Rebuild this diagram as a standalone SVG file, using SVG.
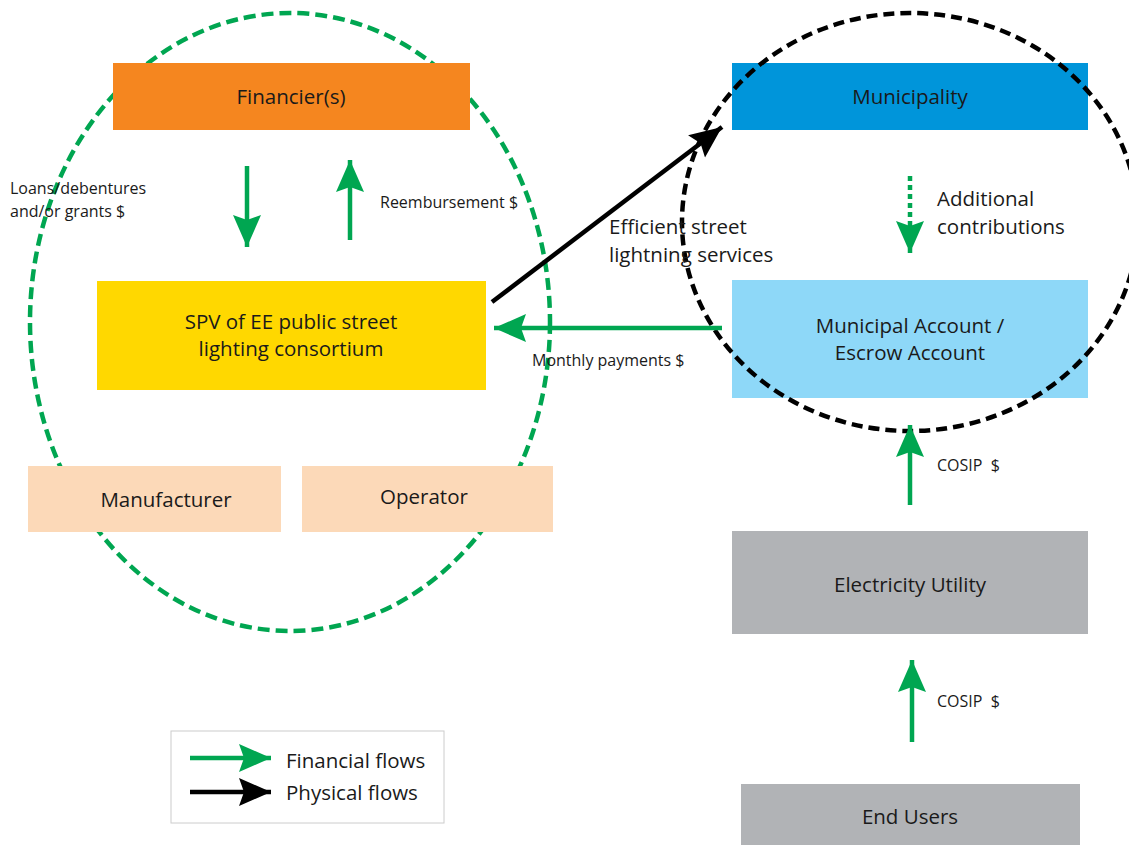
<svg xmlns="http://www.w3.org/2000/svg" width="1129" height="845" viewBox="0 0 1129 845">
<defs>
<style>
text{font-family:"Open Sans","Liberation Sans",Arial,sans-serif;fill:#1a1a1a}
.big{font-size:20.5px}
.sm{font-size:16px}
.mid{text-anchor:middle}
.g{stroke:#00A651;stroke-width:4.5;fill:none}
.k{stroke:#000;stroke-width:4.5;fill:none}
</style>
<marker id="ag" markerUnits="userSpaceOnUse" markerWidth="34" markerHeight="32" viewBox="-32 -16 34 32" refX="0" refY="0" orient="auto">
<path d="M0,0 L-32,-14 L-27,0 L-32,14 Z" fill="#00A651"/>
</marker>
<marker id="ak" markerUnits="userSpaceOnUse" markerWidth="34" markerHeight="32" viewBox="-32 -16 34 32" refX="0" refY="0" orient="auto">
<path d="M0,0 L-32,-14 L-27,0 L-32,14 Z" fill="#000"/>
</marker>
</defs>
<rect width="1129" height="845" fill="#fff"/>
<ellipse id="green-boundary" cx="290" cy="322" rx="260" ry="309" fill="none" stroke="#00A651" stroke-width="4.5" stroke-dasharray="12 6"/>
<g id="financiers"><rect x="113" y="63" width="357" height="67" fill="#F5861F"/><text class="big mid" x="291" y="104">Financier(s)</text></g>
<g id="municipality"><rect x="732" y="63" width="356" height="67" fill="#0095DA"/><text class="big mid" x="910" y="104">Municipality</text></g>
<g id="spv"><rect x="97" y="281" width="389" height="109" fill="#FFD800"/><text class="big mid" x="291" y="329">SPV of EE public street</text><text class="big mid" x="291" y="356">lighting consortium</text></g>
<g id="municipal-account"><rect x="732" y="280" width="356" height="118" fill="#8ED8F8"/><text class="big mid" x="910" y="333">Municipal Account /</text><text class="big mid" x="910" y="360">Escrow Account</text></g>
<g id="manufacturer"><rect x="28" y="466" width="253" height="66" fill="#FCD9B8"/><text class="big mid" x="166" y="507">Manufacturer</text></g>
<g id="operator"><rect x="302" y="466" width="251" height="66" fill="#FCD9B8"/><text class="big mid" x="424" y="504">Operator</text></g>
<g id="electricity-utility"><rect x="732" y="531" width="356" height="103" fill="#B1B3B6"/><text class="big mid" x="910" y="592">Electricity Utility</text></g>
<g id="end-users"><rect x="741" y="784" width="339" height="61" fill="#B1B3B6"/><text class="big mid" x="910" y="824">End Users</text></g>
<ellipse id="black-boundary" cx="910" cy="222" rx="228" ry="209" fill="none" stroke="#000" stroke-width="4.5" stroke-dasharray="11 6"/>
<g id="connectors">
<line class="g" x1="247" y1="166" x2="247" y2="247" marker-end="url(#ag)"/>
<line class="g" x1="350" y1="240" x2="350" y2="160" marker-end="url(#ag)"/>
<line class="k" x1="492" y1="302" x2="722" y2="127" marker-end="url(#ak)"/>
<line class="g" x1="722" y1="328" x2="494" y2="328" marker-end="url(#ag)"/>
<line class="g" x1="910" y1="176" x2="910" y2="253" stroke-dasharray="5 4" marker-end="url(#ag)"/>
<line class="g" x1="910" y1="505" x2="910" y2="425" marker-end="url(#ag)"/>
<line class="g" x1="912" y1="742" x2="912" y2="660" marker-end="url(#ag)"/>
</g>
<g id="labels">
<text class="sm" x="10" y="194">Loans/debentures</text>
<text class="sm" x="10" y="217">and/or grants $</text>
<text class="sm" x="380" y="208">Reembursement $</text>
<text class="big" x="609" y="234">Efficient street</text>
<text class="big" x="609" y="262">lightning services</text>
<text class="big" x="937" y="206">Additional</text>
<text class="big" x="937" y="234">contributions</text>
<text class="sm" x="532" y="366">Monthly payments $</text>
<text class="sm" x="937" y="471">COSIP&#160; $</text>
<text class="sm" x="937" y="707">COSIP&#160; $</text>
</g>
<g id="legend">
<rect x="171" y="731" width="273" height="92" fill="#fff" stroke="#ccc" stroke-width="1"/>
<line class="g" x1="190" y1="758" x2="271" y2="758" marker-end="url(#ag)"/>
<line class="k" x1="190" y1="792" x2="271" y2="792" marker-end="url(#ak)"/>
<text class="big" x="286" y="768">Financial flows</text>
<text class="big" x="286" y="800">Physical flows</text>
</g>
</svg>
